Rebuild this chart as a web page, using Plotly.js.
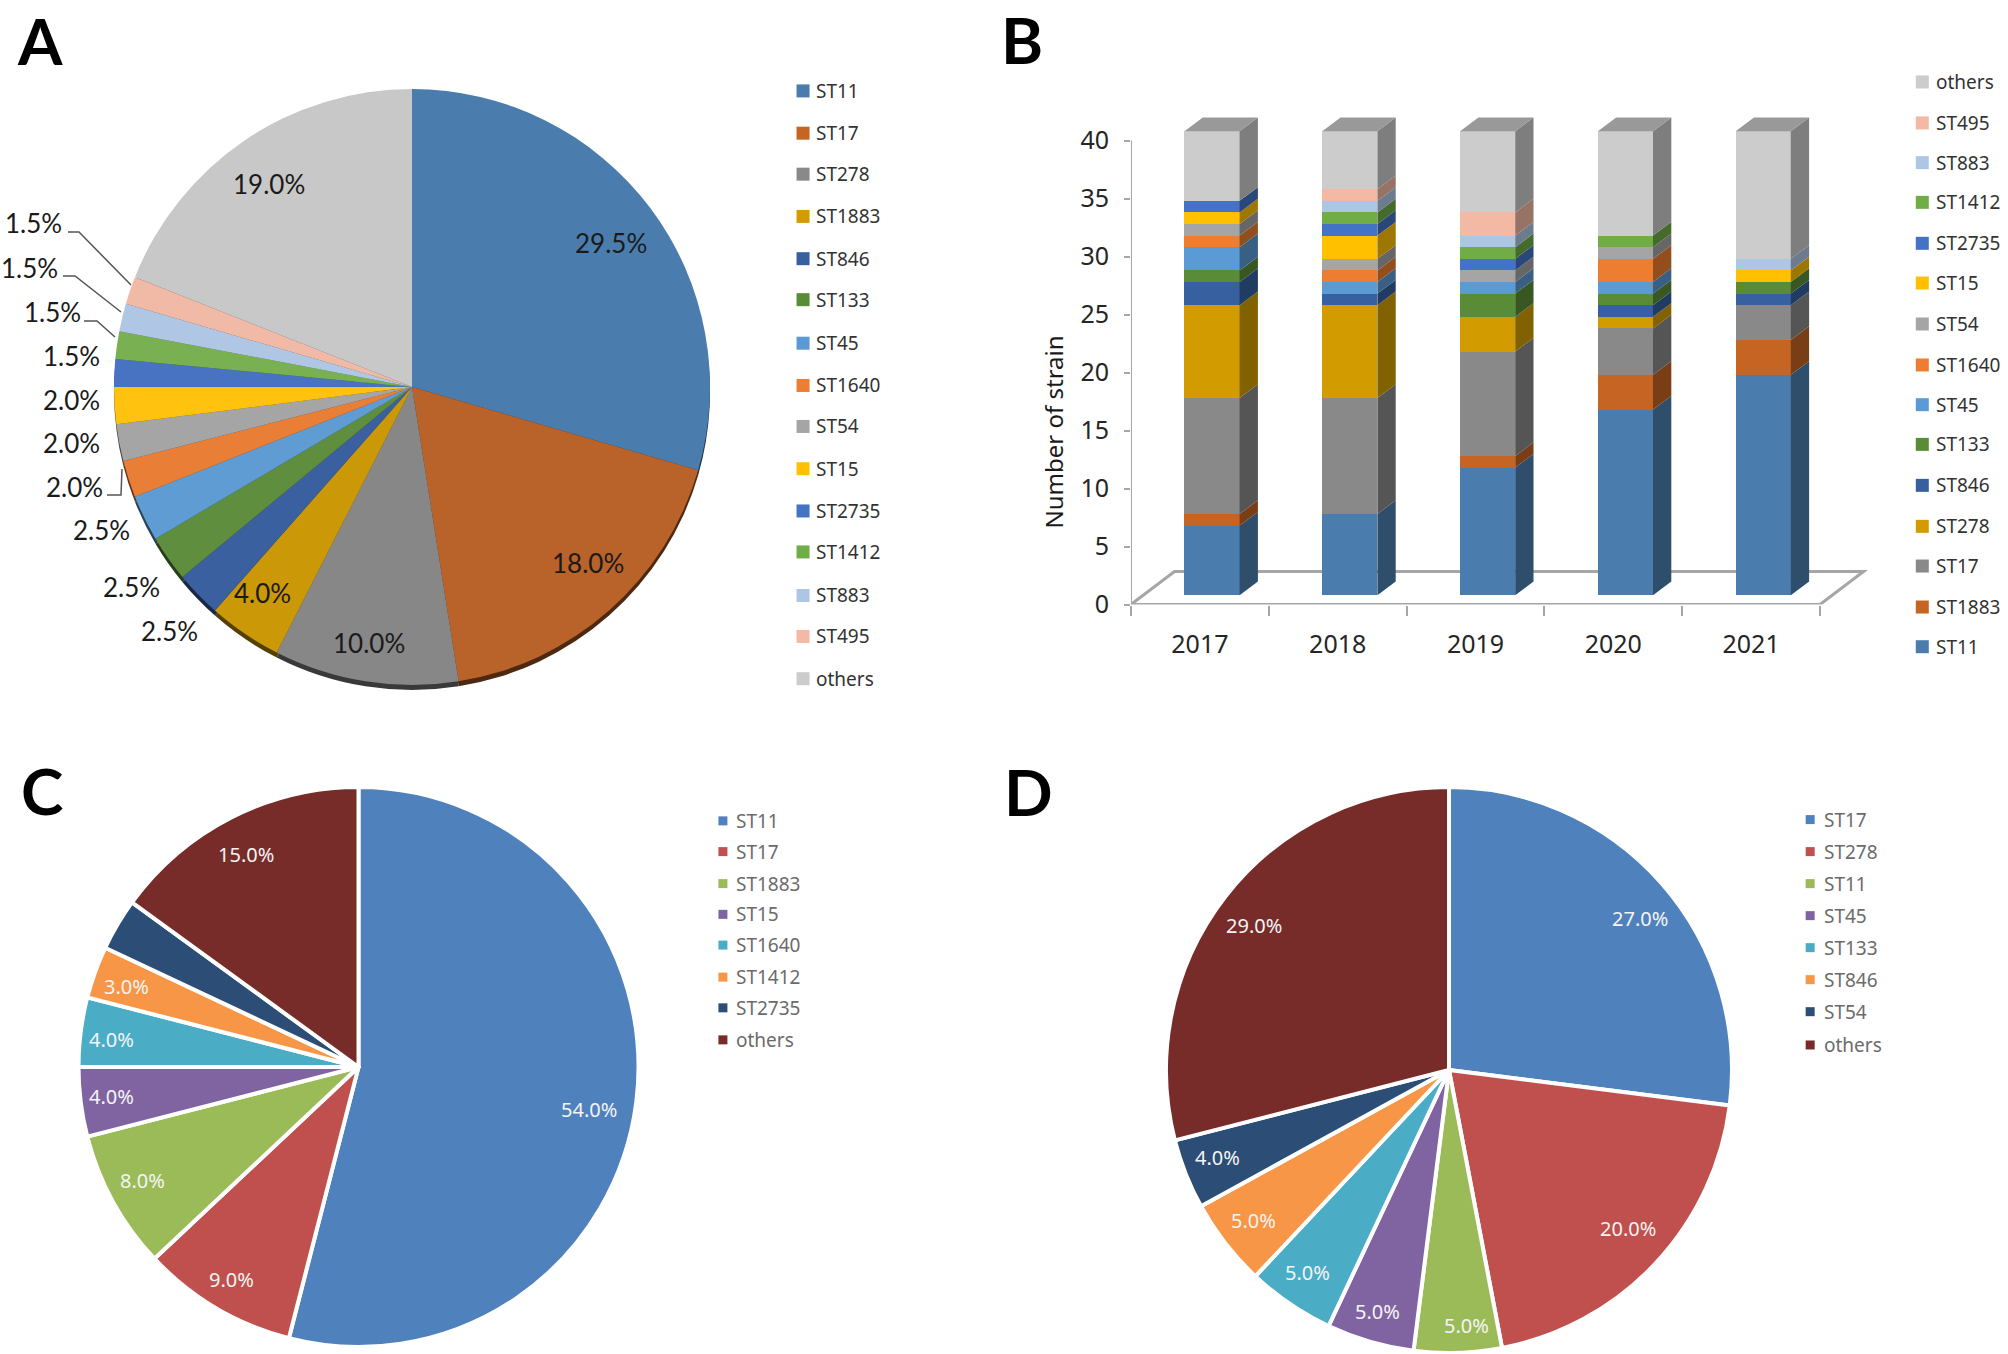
<!DOCTYPE html>
<html>
<head>
<meta charset="utf-8">
<script src="https://cdn.plot.ly/plotly-3.0.1.min.js"></script>
<style>html,body{margin:0;padding:0;background:#fff}#chart{width:2008px;height:1354px}</style>
</head>
<body>
<div id="chart"></div>
<script>
// ---------- data ----------
const strainColors = {
  ST11:'#4a7dae', ST1883:'#c56423', ST17:'#898989', ST278:'#d29c00', ST846:'#36609f',
  ST133:'#5a8c37', ST45:'#5b9bd5', ST1640:'#ed7d31', ST54:'#a5a5a5', ST15:'#ffc000',
  ST2735:'#4472c4', ST1412:'#70ad47', ST883:'#aec6e5', ST495:'#f4b9a5', others:'#cccccc'
};
// panel A
const labelsA = ['ST11','ST17','ST278','ST1883','ST846','ST133','ST45','ST1640','ST54','ST15','ST2735','ST1412','ST883','ST495','others'];
const valuesA = [29.5,18,10,4,2.5,2.5,2.5,2,2,2,1.5,1.5,1.5,1.5,19];
const colorsA = ['#4a7dad','#b9622a','#878787','#cb9808','#3b60a0','#5f8f3e','#5f9cd4','#e97f36','#a5a5a5','#ffc20e','#4873c3','#78b052','#afc7e5','#f0baa6','#c8c8c8'];
const legendColorsA = ['#4a7dad','#c56423','#898989','#d29c00','#36609f','#5a8c37','#5b9bd5','#ed7d31','#a5a5a5','#ffc000','#4472c4','#70ad47','#aec6e5','#f4b9a5','#cccccc'];
// panel B (stack order, bottom to top)
const years = ['2017','2018','2019','2020','2021'];
const stackOrder = ['ST11','ST1883','ST17','ST278','ST846','ST133','ST45','ST1640','ST54','ST15','ST2735','ST1412','ST883','ST495','others'];
const ST11   = [ 6, 7,11,16,19];
const ST1883 = [ 1, 0, 1, 3, 3];
const ST17   = [10,10, 9, 4, 3];
const ST278  = [ 8, 8, 3, 1, 0];
const ST846  = [ 2, 1, 0, 1, 1];
const ST133  = [ 1, 0, 2, 1, 1];
const ST45   = [ 2, 1, 1, 1, 0];
const ST1640 = [ 1, 1, 0, 2, 0];
const ST54   = [ 1, 1, 1, 1, 0];
const ST15   = [ 1, 2, 0, 0, 1];
const ST2735 = [ 1, 1, 1, 0, 0];
const ST1412 = [ 0, 1, 1, 1, 0];
const ST883  = [ 0, 1, 1, 0, 1];
const ST495  = [ 0, 1, 2, 0, 0];
const others = [ 6, 5, 7, 9,11];
const stackValues = [ST11,ST1883,ST17,ST278,ST846,ST133,ST45,ST1640,ST54,ST15,ST2735,ST1412,ST883,ST495,others];
// panel C
const labelsC = ['ST11','ST17','ST1883','ST15','ST1640','ST1412','ST2735','others'];
const valuesC = [54,9,8,4,4,3,3,15];
const shownC  = [true,true,true,true,true,true,false,true];
// panel D
const labelsD = ['ST17','ST278','ST11','ST45','ST133','ST846','ST54','others'];
const valuesD = [27,20,5,5,5,5,4,29];
const officeColors = ['#4f81bd','#c0504d','#9bbb59','#8064a2','#4bacc6','#f79646','#2c4d75','#772c2a'];

// ---------- layout helpers ----------
const W = 2008, H = 1354, S = 2008/1568;
const px = v => v/W, py = v => 1-v/H;
const SANS = 'Noto Sans, sans-serif', NUM = 'Lato, sans-serif';
const darken = (hex,f) => {
  const n = parseInt(hex.slice(1),16);
  const c = [n>>16&255,n>>8&255,n&255].map(v=>Math.round(v*f));
  return `rgb(${c[0]},${c[1]},${c[2]})`;
};
const pieDomain = (cx,cy,r) => ({x:[px(cx-r),px(cx+r)], y:[py(cy+r),py(cy-r)]});
const annotations = [], shapes = [], traces = [];
const text = (x,y,t,size,color,family,anchor='center',extra={}) => annotations.push(Object.assign({
  xref:'paper',yref:'paper',x:px(x*S),y:py(y*S),text:t,showarrow:false,xanchor:anchor,yanchor:'middle',
  font:{size,color,family}
},extra));

// panel letters
[['A',31,32],['B',798,30.5],['C',33,617],['D',803,618]].forEach(d=>
  annotations.push({xref:'paper',yref:'paper',x:px(d[1]*S),y:py(d[2]*S),text:d[0],showarrow:false,
    xanchor:'center',yanchor:'middle',font:{size:64,color:'#000',family:NUM,weight:700}}));

// ---------- pie A (with offset shadow) ----------
traces.push({type:'pie',labels:labelsA,values:valuesA,sort:false,direction:'clockwise',rotation:0,
  domain:pieDomain(412,392,298),textinfo:'none',hoverinfo:'skip',
  marker:{colors:colorsA.map(c=>darken(c,0.42)),line:{width:0}}});
traces.push({type:'pie',labels:labelsA,values:valuesA,sort:false,direction:'clockwise',rotation:0,
  domain:pieDomain(412,387,298),textinfo:'none',hoverinfo:'skip',marker:{colors:colorsA,line:{width:0}}});
const labelPosA = [[477,190],[459,440],[288,502],[205,463],[132,493],[103,458],[79,414],[58,380],[56,346],[56,312],[56,278],[41,244],[23,209],[26,174],[210,144]];
valuesA.forEach((v,i)=>text(labelPosA[i][0],labelPosA[i][1],v.toFixed(1)+'%',26,'#1a1a1a',NUM));
[[[68,232],[79,232],[131,285]],[[63,276],[75,276],[121,312]],[[84,321],[97,321],[115,337]],[[107,495],[121,495],[122,469]]]
  .forEach(p=>shapes.push({type:'path',xref:'paper',yref:'paper',line:{color:'#555',width:1.5},
    path:'M'+p.map(q=>`${px(q[0])},${py(q[1])}`).join('L')}));
const legendYA = [71,104,136,169,202,234,268,301,333,366,399,431,465,497,530];
labelsA.forEach((l,i)=>{
  shapes.push({type:'rect',xref:'paper',yref:'paper',line:{width:0},fillcolor:legendColorsA[i],
    x0:px(622*S),x1:px(622*S+13),y0:py(legendYA[i]*S+6.5),y1:py(legendYA[i]*S-6.5)});
  text(636,legendYA[i],l,19,'#333',SANS,'left');
});

// ---------- pie C ----------
traces.push({type:'pie',labels:labelsC,values:valuesC,sort:false,direction:'clockwise',rotation:0,
  domain:pieDomain(358.5,1067,280),textinfo:'none',hoverinfo:'skip',marker:{colors:officeColors,line:{color:'#fff',width:4}}});
const labelPosC = [[460,866],[181,999],[111,922],[87,856],[87,812],[99,770],null,[192,667]];
valuesC.forEach((v,i)=>{ if(shownC[i]) text(labelPosC[i][0],labelPosC[i][1],v.toFixed(1)+'%',20,'#f4f4f4',SANS); });
const legendYC = [641,665,690,714,738,763,787,812];
labelsC.forEach((l,i)=>{
  shapes.push({type:'rect',xref:'paper',yref:'paper',line:{width:0},fillcolor:officeColors[i],
    x0:px(561*S),x1:px(561*S+9),y0:py(legendYC[i]*S+4.5),y1:py(legendYC[i]*S-4.5)});
  text(573,legendYC[i],l,19,'#6b6b6b',SANS,'left');
});

// ---------- pie D ----------
traces.push({type:'pie',labels:labelsD,values:valuesD,sort:false,direction:'clockwise',rotation:0,
  domain:pieDomain(1449,1070,283),textinfo:'none',hoverinfo:'skip',marker:{colors:officeColors,line:{color:'#fff',width:4}}});
const labelPosD = [[1281,717],[1271,959],[1145,1035],[1076,1024],[1021,994],[979,953],[951,904],[979,723]];
valuesD.forEach((v,i)=>text(labelPosD[i][0],labelPosD[i][1],v.toFixed(1)+'%',20,'#f4f4f4',SANS));
const legendYD = [640,665,690,715,740,765,790,816];
labelsD.forEach((l,i)=>{
  shapes.push({type:'rect',xref:'paper',yref:'paper',line:{width:0},fillcolor:officeColors[i],
    x0:px(1410*S),x1:px(1410*S+9),y0:py(legendYD[i]*S+4.5),y1:py(legendYD[i]*S-4.5)});
  text(1423,legendYD[i],l,19,'#6b6b6b',SANS,'left');
});

// ---------- 3D stacked columns B ----------
const barX = 0.088, barW = 0.40, lift = 0.8, dx = 0.133, dy = 1.18;
const xAt = i => i+0.5+barX;
const axisGrey = '#a6a6a6';
const floorDx = 0.316, floorDy = 2.85;
// floor of the 3-D box sits beneath the columns
shapes.push({type:'path',xref:'x',yref:'y',layer:'below',line:{color:axisGrey,width:3},
  path:`M0,0L${floorDx},${floorDy}L${5+floorDx},${floorDy}L5,0Z`});
traces.push({type:'scatter',mode:'lines',hoverinfo:'skip',showlegend:false,xaxis:'x',yaxis:'y',
  x:[0,0],y:[0,40],line:{color:axisGrey,width:2}});
const base = years.map(()=>lift);
stackOrder.forEach((name,s)=>{
  const vals = stackValues[s], color = strainColors[name];
  const sx = [], sy = [];
  const bases = vals.map((v,i)=>{
    const b = base[i];
    if(v>0){
      const r = xAt(i)+barW/2;
      sx.push(r,r+dx,r+dx,r,r,null);
      sy.push(b,b+dy,b+v+dy,b+v,b,null);
    }
    base[i]+=v;
    return b;
  });
  traces.push({type:'scatter',mode:'none',fill:'toself',x:sx,y:sy,fillcolor:darken(color,0.62),
    hoverinfo:'skip',showlegend:false,xaxis:'x',yaxis:'y'});
  traces.push({type:'bar',name,x:years.map((_,i)=>xAt(i)),y:vals,base:bases,width:barW,
    marker:{color,line:{width:0}},hoverinfo:'skip',showlegend:false,xaxis:'x',yaxis:'y'});
});
// top faces
const tx = [], ty = [];
years.forEach((_,i)=>{
  const l = xAt(i)-barW/2, r = xAt(i)+barW/2, t = base[i];
  tx.push(l,l+dx,r+dx,r,l,null); ty.push(t,t+dy,t+dy,t,t,null);
});
traces.push({type:'scatter',mode:'none',fill:'toself',x:tx,y:ty,fillcolor:'#999999',hoverinfo:'skip',showlegend:false,xaxis:'x',yaxis:'y'});

const legendYB = [64,96,127,158,190,221,253,285,316,347,379,411,442,474,505];
const legendNamesB = ['others','ST495','ST883','ST1412','ST2735','ST15','ST54','ST1640','ST45','ST133','ST846','ST278','ST17','ST1883','ST11'];
legendNamesB.forEach((l,i)=>{
  shapes.push({type:'rect',xref:'paper',yref:'paper',line:{width:0},fillcolor:strainColors[l],
    x0:px(1496*S),x1:px(1496*S+13),y0:py(legendYB[i]*S+6.5),y1:py(legendYB[i]*S-6.5)});
  text(1510,legendYB[i],l,19,'#333',SANS,'left');
});
// y-axis title of panel B
text(823,337,'Number of strain',24,'#1a1a1a',SANS,'center',{textangle:-90});

const x0B = 1131, catW = 137.8, xMax = 5.4, y0B = 604.5, unit = 11.6, yMax = 44;
const layout = {
  width:W,height:H,margin:{l:0,r:0,t:0,b:0},paper_bgcolor:'#fff',plot_bgcolor:'rgba(0,0,0,0)',
  showlegend:false,barmode:'overlay',bargap:0,annotations,shapes,
  xaxis:{domain:[px(x0B),px(x0B+xMax*catW)],range:[0,xMax],showgrid:false,zeroline:false,showline:false,
    tickmode:'array',tickvals:years.map((_,i)=>i+0.5),ticktext:years,ticks:'',ticklabelstandoff:22,
    tickfont:{family:SANS,size:25,color:'#262626'},
    minor:{tickmode:'array',tickvals:[0,1,2,3,4,5],ticks:'outside',ticklen:10,tickwidth:2,tickcolor:axisGrey,showgrid:false}},
  yaxis:{domain:[py(y0B),py(y0B-yMax*unit)],range:[0,yMax],showgrid:false,zeroline:false,showline:false,
    tickmode:'array',tickvals:[0,5,10,15,20,25,30,35,40],ticks:'outside',ticklen:6,tickwidth:2,tickcolor:axisGrey,ticklabelstandoff:10,
    tickfont:{family:SANS,size:25,color:'#262626'}}
};
Plotly.newPlot('chart',traces,layout,{displayModeBar:false,staticPlot:true});
</script>
</body>
</html>
